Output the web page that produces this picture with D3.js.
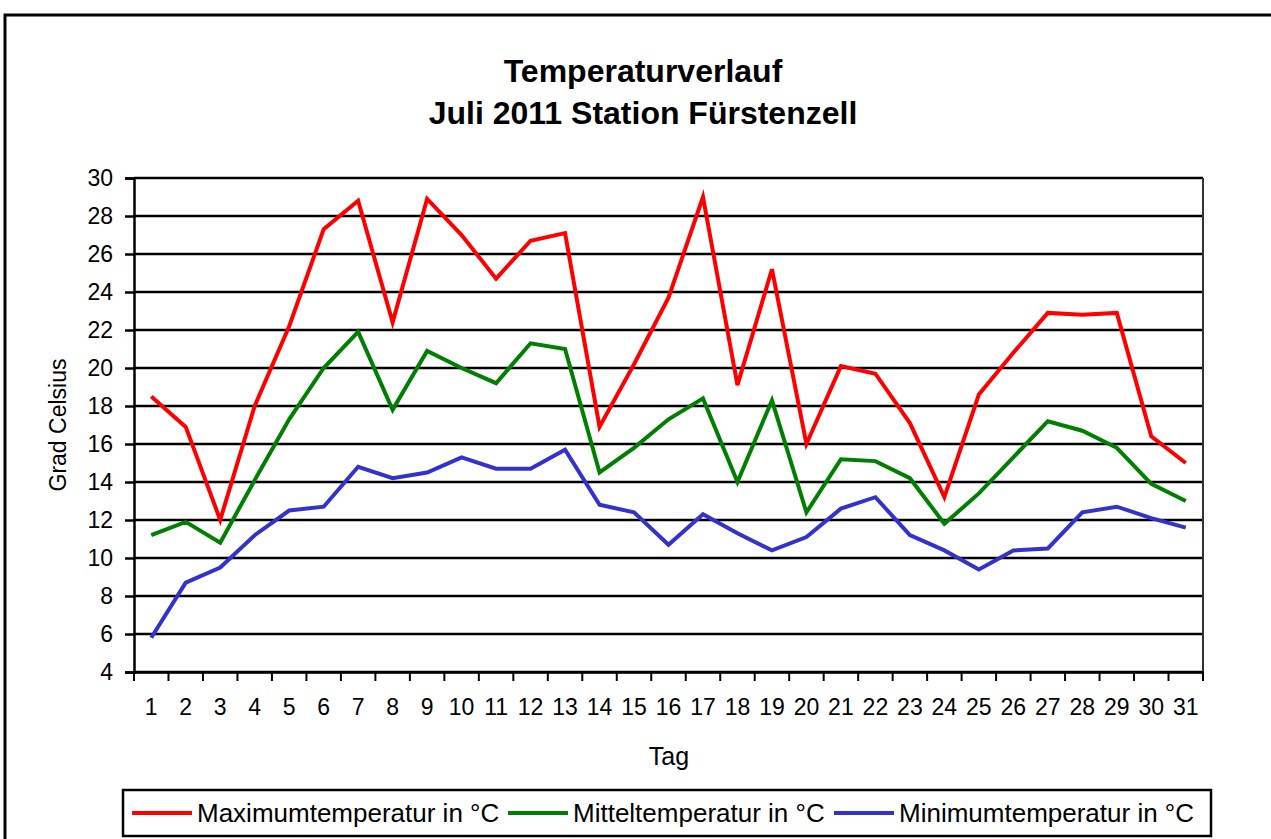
<!DOCTYPE html>
<html>
<head>
<meta charset="utf-8">
<script src="https://cdn.jsdelivr.net/npm/d3@7"></script>
<style>
  body { margin: 0; background: #fff; }
  text { font-family: "Liberation Sans", Arial, sans-serif; fill: #000; }
</style>
</head>
<body>
<div id="chart"></div>
<script>
// Tage im Juli 2011
const days = d3.range(1, 32);

// Tageswerte Station Fürstenzell
const maxTemp = [18.5, 16.9, 12.0, 18.0, 22.2, 27.3, 28.8, 22.4, 28.9, 27.0,
                 24.7, 26.7, 27.1, 16.9, 20.2, 23.7, 29.0, 19.1, 25.2, 16.0,
                 20.1, 19.7, 17.1, 13.2, 18.6, 20.8, 22.9, 22.8, 22.9, 16.4, 15.0];
const meanTemp = [11.2, 11.9, 10.8, 14.1, 17.3, 20.0, 21.9, 17.8, 20.9, 20.0,
                  19.2, 21.3, 21.0, 14.5, 15.8, 17.3, 18.4, 14.0, 18.3, 12.4,
                  15.2, 15.1, 14.2, 11.8, 13.4, 15.3, 17.2, 16.7, 15.8, 13.9, 13.0];
const minTemp = [5.8, 8.7, 9.5, 11.2, 12.5, 12.7, 14.8, 14.2, 14.5, 15.3,
                 14.7, 14.7, 15.7, 12.8, 12.4, 10.7, 12.3, 11.3, 10.4, 11.1,
                 12.6, 13.2, 11.2, 10.4, 9.4, 10.4, 10.5, 12.4, 12.7, 12.1, 11.6];

const yTicks = d3.range(4, 31, 2);

const series = [
    { name: "Maximumtemperatur in °C", values: maxTemp, color: "#ff0000" },
    { name: "Mitteltemperatur in °C", values: meanTemp, color: "#008000" },
    { name: "Minimumtemperatur in °C", values: minTemp, color: "#3333cc" }
];

const W = 1271, H = 839;
const plot = { left: 134, right: 1203, top: 178, bottom: 672 };

const svg = d3.select("#chart").append("svg")
    .attr("width", W)
    .attr("height", H);

// Rahmen um das ganze Diagramm (rechts und unten abgeschnitten)
svg.append("rect")
    .attr("x", 5).attr("y", 15)
    .attr("width", W + 20).attr("height", H + 20)
    .attr("fill", "none")
    .attr("stroke", "#000")
    .attr("stroke-width", 3);

// Titel
const title = svg.append("text")
    .attr("text-anchor", "middle")
    .attr("font-weight", "bold")
    .attr("font-size", 32);
title.append("tspan").attr("x", 643).attr("y", 82).text("Temperaturverlauf");
title.append("tspan").attr("x", 643).attr("y", 124).text("Juli 2011 Station Fürstenzell");

// Skalen
const x = d3.scaleBand()
    .domain(days)
    .range([plot.left, plot.right]);

const y = d3.scaleLinear()
    .domain([4, 30])
    .range([plot.bottom, plot.top]);

// Horizontale Gitterlinien
svg.append("g")
    .selectAll("line")
    .data(yTicks)
    .join("line")
    .attr("x1", plot.left)
    .attr("x2", plot.right)
    .attr("y1", d => y(d))
    .attr("y2", d => y(d))
    .attr("stroke", "#000")
    .attr("stroke-width", 2.5);

// Rechte Begrenzung der Zeichenfläche
svg.append("line")
    .attr("x1", plot.right).attr("x2", plot.right)
    .attr("y1", plot.top).attr("y2", plot.bottom)
    .attr("stroke", "#333")
    .attr("stroke-width", 2);

// Y-Achse
const yAxis = svg.append("g")
    .attr("transform", `translate(${plot.left},0)`)
    .call(d3.axisLeft(y).tickValues(yTicks).tickSize(9).tickPadding(12));
yAxis.select(".domain").attr("stroke-width", 2.5);
yAxis.selectAll(".tick line").attr("stroke-width", 2.5);
yAxis.selectAll(".tick text")
    .attr("font-size", 23)
    .attr("font-family", "Liberation Sans, Arial, sans-serif");

// X-Achse: Striche zwischen den Kategorien wie in Excel
const xAxis = svg.append("g")
    .attr("transform", `translate(0,${plot.bottom})`)
    .call(d3.axisBottom(x).tickSize(0).tickPadding(27));
xAxis.select(".domain").attr("stroke-width", 2.5);
xAxis.selectAll(".tick text")
    .attr("font-size", 23)
    .attr("font-family", "Liberation Sans, Arial, sans-serif");

svg.append("g")
    .selectAll("line")
    .data(d3.range(days.length + 1))
    .join("line")
    .attr("x1", i => plot.left + i * x.step())
    .attr("x2", i => plot.left + i * x.step())
    .attr("y1", plot.bottom)
    .attr("y2", plot.bottom + 9)
    .attr("stroke", "#000")
    .attr("stroke-width", 2);

// Achsentitel
svg.append("text")
    .attr("text-anchor", "middle")
    .attr("font-size", 23)
    .attr("transform", `translate(66,${(plot.top + plot.bottom) / 2}) rotate(-90)`)
    .text("Grad Celsius");

svg.append("text")
    .attr("x", 669)
    .attr("y", 765)
    .attr("text-anchor", "middle")
    .attr("font-size", 25)
    .text("Tag");

// Linien der drei Temperaturreihen
const line = d3.line()
    .x((d, i) => x(days[i]) + x.bandwidth() / 2)
    .y(d => y(d));

svg.append("g")
    .selectAll("path")
    .data(series)
    .join("path")
    .attr("d", d => line(d.values))
    .attr("fill", "none")
    .attr("stroke", d => d.color)
    .attr("stroke-width", 4)
    .attr("stroke-linejoin", "miter");

// Legende
const legend = svg.append("g");
legend.append("rect")
    .attr("x", 123).attr("y", 790)
    .attr("width", 1088).attr("height", 46)
    .attr("fill", "#fff")
    .attr("stroke", "#000")
    .attr("stroke-width", 2.5);

const legendX = [132, 508, 834];
const items = legend.selectAll("g.item")
    .data(series)
    .join("g")
    .attr("class", "item")
    .attr("transform", (d, i) => `translate(${legendX[i]},813)`);

items.append("line")
    .attr("x1", 0).attr("x2", 60)
    .attr("stroke", d => d.color)
    .attr("stroke-width", 4);

items.append("text")
    .attr("x", 65)
    .attr("dy", "0.36em")
    .attr("font-size", 26)
    .text(d => d.name);
</script>
</body>
</html>
